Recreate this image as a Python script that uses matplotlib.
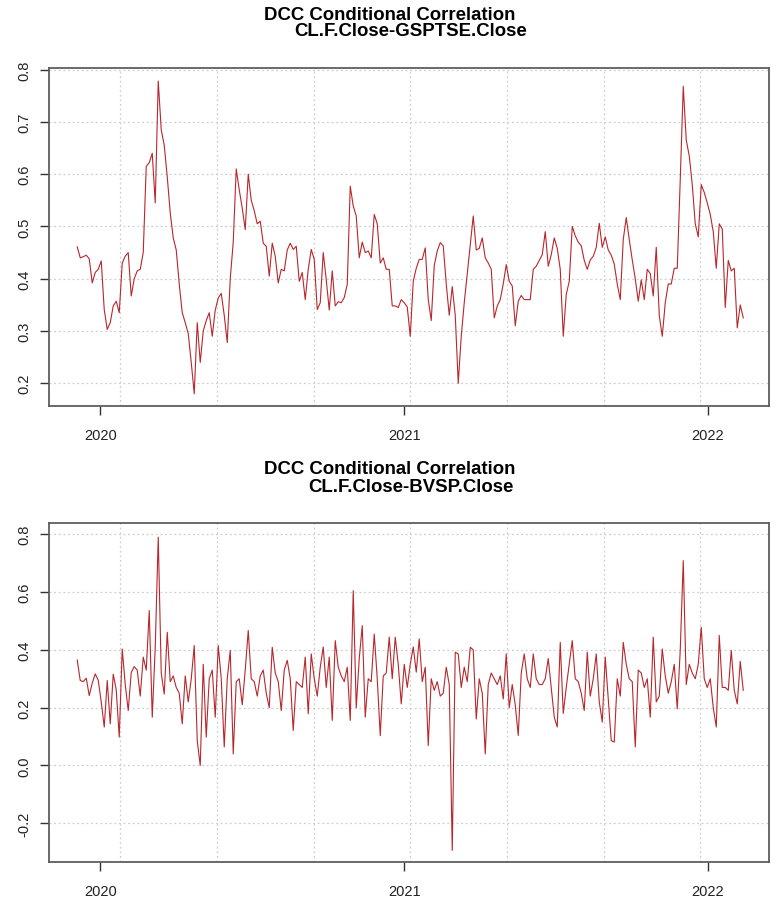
import matplotlib
matplotlib.use("Agg")
import matplotlib.pyplot as plt
import numpy as np
import pandas as pd

# daily DCC correlation (one value every ~3.6 days)
first_day = "2019-12-04"
last_day = "2022-02-13"

gsptse_corr = [
    0.461, 0.440, 0.442, 0.445, 0.438, 0.392, 0.412, 0.418, 0.434, 0.341,
    0.303, 0.316, 0.348, 0.357, 0.335, 0.430, 0.443, 0.450, 0.367, 0.400,
    0.415, 0.418, 0.450, 0.615, 0.622, 0.640, 0.545, 0.778, 0.685, 0.655,
    0.595, 0.526, 0.478, 0.455, 0.390, 0.335, 0.316, 0.295, 0.240, 0.180,
    0.316, 0.240, 0.300, 0.320, 0.335, 0.290, 0.340, 0.363, 0.372, 0.330,
    0.278, 0.400, 0.470, 0.610, 0.570, 0.535, 0.494, 0.600, 0.550, 0.530,
    0.505, 0.510, 0.468, 0.462, 0.405, 0.468, 0.443, 0.392, 0.418, 0.415,
    0.455, 0.468, 0.456, 0.462, 0.395, 0.412, 0.360, 0.418, 0.456, 0.437,
    0.341, 0.354, 0.450, 0.398, 0.340, 0.415, 0.348, 0.356, 0.354, 0.364,
    0.389, 0.577, 0.539, 0.520, 0.440, 0.470, 0.450, 0.453, 0.440, 0.523,
    0.505, 0.430, 0.440, 0.418, 0.418, 0.348, 0.348, 0.345, 0.360, 0.354,
    0.346, 0.290, 0.395, 0.420, 0.437, 0.437, 0.459, 0.360, 0.320, 0.425,
    0.453, 0.469, 0.463, 0.390, 0.330, 0.385, 0.330, 0.200, 0.290, 0.354,
    0.410, 0.466, 0.520, 0.455, 0.458, 0.478, 0.440, 0.430, 0.418, 0.325,
    0.348, 0.360, 0.390, 0.427, 0.395, 0.386, 0.310, 0.357, 0.368, 0.360,
    0.360, 0.360, 0.418, 0.424, 0.435, 0.446, 0.490, 0.424, 0.446, 0.478,
    0.458, 0.418, 0.290, 0.370, 0.395, 0.500, 0.482, 0.470, 0.463, 0.435,
    0.418, 0.436, 0.443, 0.460, 0.506, 0.460, 0.480, 0.455, 0.445, 0.428,
    0.390, 0.360, 0.475, 0.517, 0.475, 0.436, 0.400, 0.357, 0.398, 0.360,
    0.418, 0.410, 0.367, 0.460, 0.330, 0.290, 0.354, 0.390, 0.390, 0.420,
    0.420, 0.590, 0.768, 0.665, 0.635, 0.580, 0.505, 0.480, 0.580, 0.565,
    0.545, 0.523, 0.490, 0.420, 0.505, 0.495, 0.345, 0.435, 0.415, 0.420,
    0.306, 0.350, 0.325,
]

bvsp_corr = [
    0.365, 0.294, 0.290, 0.302, 0.242, 0.285, 0.317, 0.295, 0.220, 0.133,
    0.294, 0.144, 0.316, 0.262, 0.098, 0.403, 0.280, 0.190, 0.322, 0.342,
    0.330, 0.240, 0.375, 0.330, 0.536, 0.167, 0.409, 0.790, 0.320, 0.247,
    0.461, 0.290, 0.310, 0.270, 0.250, 0.144, 0.310, 0.220, 0.300, 0.415,
    0.086, 0.000, 0.350, 0.098, 0.300, 0.330, 0.167, 0.415, 0.300, 0.064,
    0.300, 0.398, 0.040, 0.290, 0.300, 0.210, 0.330, 0.467, 0.300, 0.290,
    0.240, 0.310, 0.330, 0.250, 0.200, 0.409, 0.320, 0.290, 0.190, 0.330,
    0.364, 0.300, 0.121, 0.290, 0.280, 0.270, 0.375, 0.179, 0.386, 0.300,
    0.240, 0.340, 0.410, 0.270, 0.375, 0.156, 0.432, 0.340, 0.310, 0.290,
    0.340, 0.156, 0.605, 0.200, 0.370, 0.484, 0.167, 0.300, 0.290, 0.455,
    0.300, 0.103, 0.310, 0.320, 0.444, 0.300, 0.444, 0.350, 0.213, 0.350,
    0.270, 0.350, 0.410, 0.323, 0.438, 0.290, 0.340, 0.069, 0.300, 0.260,
    0.290, 0.240, 0.250, 0.340, 0.280, -0.294, 0.392, 0.386, 0.270, 0.340,
    0.290, 0.409, 0.400, 0.161, 0.300, 0.250, 0.040, 0.280, 0.320, 0.300,
    0.280, 0.310, 0.230, 0.386, 0.200, 0.280, 0.210, 0.104, 0.320, 0.386,
    0.300, 0.270, 0.386, 0.300, 0.280, 0.280, 0.300, 0.370, 0.270, 0.167,
    0.133, 0.426, 0.180, 0.270, 0.350, 0.432, 0.300, 0.290, 0.250, 0.190,
    0.392, 0.240, 0.300, 0.386, 0.220, 0.150, 0.375, 0.230, 0.086, 0.081,
    0.300, 0.240, 0.426, 0.350, 0.300, 0.290, 0.064, 0.330, 0.320, 0.270,
    0.300, 0.167, 0.444, 0.220, 0.240, 0.403, 0.310, 0.250, 0.290, 0.350,
    0.196, 0.400, 0.709, 0.280, 0.350, 0.320, 0.300, 0.350, 0.478, 0.300,
    0.270, 0.300, 0.200, 0.133, 0.450, 0.270, 0.270, 0.260, 0.398, 0.260,
    0.213, 0.360, 0.260,
]

year_ticks = ["2020-01-01", "2021-01-01", "2022-01-01"]
year_labels = ["2020", "2021", "2022"]

titles = ["CL.F.Close-GSPTSE.Close", "CL.F.Close-BVSP.Close"]

plt.rcParams["font.family"] = ["Liberation Sans", "DejaVu Sans"]

W, H = 777, 903
fig = plt.figure(figsize=(W / 100, H / 100), dpi=100)

line_col = "#b8272c"
grid_col = "#cfcfcf"

# R's grid() put the vertical lines evenly, not on the years
vgrid = [pd.Timestamp("2020-01-25") + pd.Timedelta(days=116.4 * k) for k in range(7)]


def panel(rect, values, yticks, ylim, sub, title_y):
    ax = fig.add_axes(rect)
    dates = pd.date_range(first_day, last_day, periods=len(values))
    for y in yticks:
        ax.axhline(y, color=grid_col, lw=0.9, ls=(0, (1.5, 2.2)), zorder=0)
    for d in vgrid:
        ax.axvline(d, color=grid_col, lw=0.9, ls=(0, (1.5, 2.2)), zorder=0)
    ax.plot(dates, values, color=line_col, lw=0.8)
    ax.set_xlim(pd.Timestamp("2019-10-31"), pd.Timestamp("2022-03-16"))
    ax.set_ylim(*ylim)
    ax.set_xticks(pd.to_datetime(year_ticks))
    ax.set_xticklabels(year_labels)
    ax.set_yticks(yticks)
    ax.set_yticklabels(["%.1f" % v for v in yticks], rotation=90, va="center")
    for s in ax.spines.values():
        s.set_color("#5e5e5e")
        s.set_linewidth(1.3)
    ax.tick_params(axis="both", direction="out", length=6.5, width=1,
                   color="#333333", labelsize=10.5, labelcolor="#222222")
    ax.tick_params(axis="x", pad=9)
    ax.tick_params(axis="y", pad=6)
    fig.text(390 / W, 1 - title_y / H, "DCC Conditional Correlation",
             ha="center", va="center", fontsize=13.4, fontweight="bold")
    fig.text(411 / W, 1 - (title_y + 17) / H, sub,
             ha="center", va="center", fontsize=13.4, fontweight="bold")
    return ax


panel([49 / W, 1 - 407 / H, 720 / W, 338 / H], gsptse_corr,
      [0.2, 0.3, 0.4, 0.5, 0.6, 0.7, 0.8], (0.1566, 0.803), titles[0], 15)
panel([49 / W, 1 - 863 / H, 720 / W, 339 / H], bvsp_corr,
      [-0.2, 0.0, 0.2, 0.4, 0.6, 0.8], (-0.334, 0.839), titles[1], 470)

fig.savefig("out.png", dpi=100)
